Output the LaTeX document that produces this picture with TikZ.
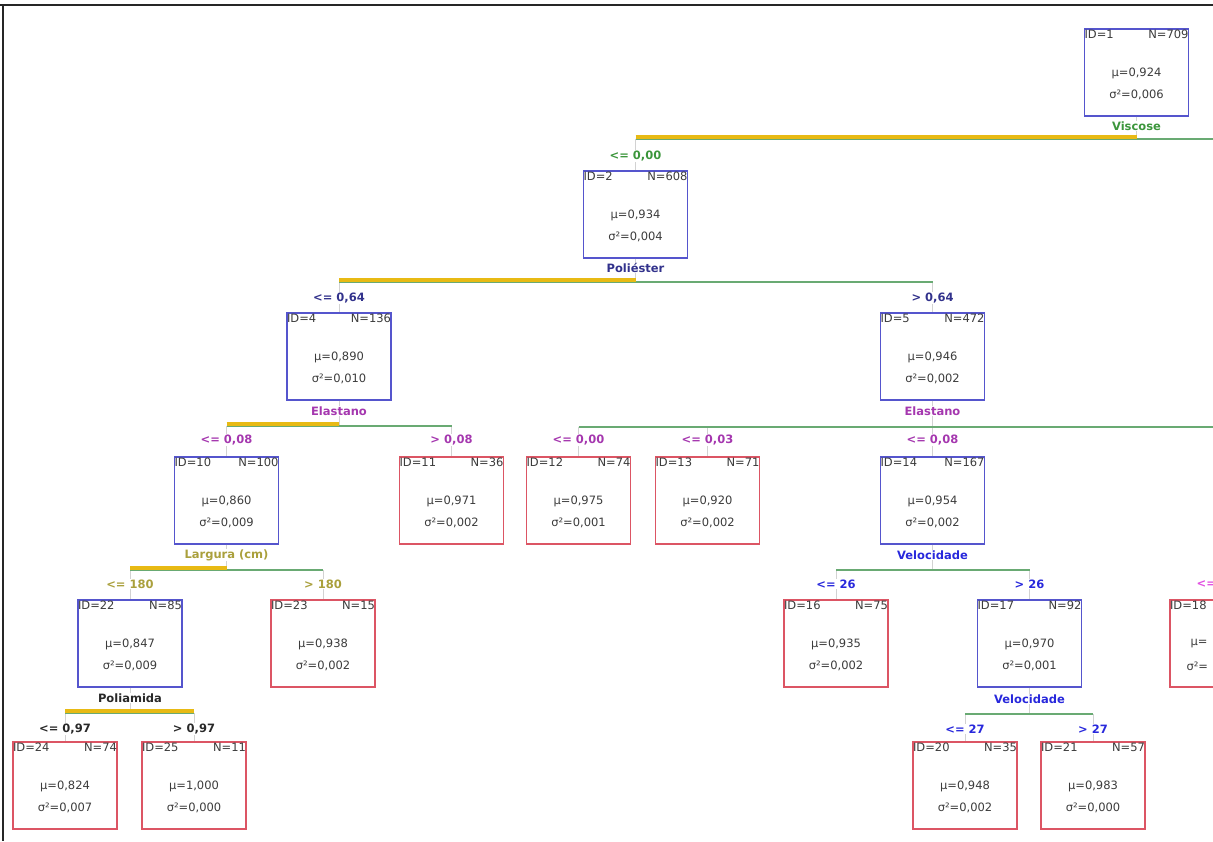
\documentclass[tikz,border=0pt]{standalone}
\usepackage{fontspec}
\setmainfont{DejaVu Sans}
\usetikzlibrary{calc}
\definecolor{inblue}{RGB}{85,85,205}
\definecolor{lfred}{RGB}{220,85,100}
\definecolor{bargreen}{RGB}{105,170,115}
\definecolor{baryel}{RGB}{232,186,20}
\definecolor{cgreen}{RGB}{60,150,60}
\definecolor{cnavy}{RGB}{50,50,140}
\definecolor{cmag}{RGB}{165,55,175}
\definecolor{colive}{RGB}{170,160,60}
\definecolor{cblue}{RGB}{40,40,220}
\definecolor{cdark}{RGB}{40,40,40}
\definecolor{cpink}{RGB}{225,80,225}
\definecolor{ctxt}{RGB}{60,60,60}
\tikzset{
  innerbox/.style={draw=inblue, line width=1.5pt, minimum width=104pt, minimum height=87pt, anchor=north, inner sep=0pt},
  leafbox/.style={draw=lfred, line width=1.5pt, minimum width=104pt, minimum height=87pt, anchor=north, inner sep=0pt},
  txt/.style={font=\fontsize{11.5}{13}\selectfont, text=ctxt, inner sep=0.3pt},
  lab/.style={font=\bfseries\fontsize{11.5}{13}\selectfont, inner sep=0.5pt, fill=white},
  gbar/.style={draw=bargreen, line width=1.2pt},
  ybar/.style={draw=baryel, line width=4pt},
  tickln/.style={draw=gray!35, line width=0.5pt},
}
\newcommand{\tn}[8]{%
  \node[#4] (#1) at (#2,#3) {};
  \node[txt, anchor=north west] at ($(#1.north west)+(0.3,1.5)$) {ID=#5};
  \node[txt, anchor=north east] at ($(#1.north east)+(-0.3,1.5)$) {N=#6};
  \node[txt] at ($(#1.north)+(0,45)$) {μ=#7};
  \node[txt] at ($(#1.north)+(0,67)$) {σ²=#8};
}
\begin{document}
\begin{tikzpicture}[x=1pt,y=-1pt]
\useasboundingbox (0,0) rectangle (1213,841);
\clip (0,0) rectangle (1213,841);
\fill[white] (0,0) rectangle (1213,841);
% frame
\draw[line width=2pt, black!85] (0,5) -- (1213,5);
\draw[line width=1.5pt, black!85] (3,5) -- (3,841);
% nodes
\tn{n1}{1136.5}{28}{innerbox}{1}{709}{0,924}{0,006}
\tn{n2}{635.5}{170}{innerbox}{2}{608}{0,934}{0,004}
\tn{n4}{339}{312}{innerbox}{4}{136}{0,890}{0,010}
\tn{n5}{932.5}{312}{innerbox}{5}{472}{0,946}{0,002}
\tn{n10}{226.5}{456}{innerbox}{10}{100}{0,860}{0,009}
\tn{n11}{451.5}{456}{leafbox}{11}{36}{0,971}{0,002}
\tn{n12}{578.5}{456}{leafbox}{12}{74}{0,975}{0,001}
\tn{n13}{707.5}{456}{leafbox}{13}{71}{0,920}{0,002}
\tn{n14}{932.5}{456}{innerbox}{14}{167}{0,954}{0,002}
\tn{n22}{130}{599}{innerbox}{22}{85}{0,847}{0,009}
\tn{n23}{323}{599}{leafbox}{23}{15}{0,938}{0,002}
\tn{n16}{836}{599}{leafbox}{16}{75}{0,935}{0,002}
\tn{n17}{1029.5}{599}{innerbox}{17}{92}{0,970}{0,001}
\tn{n24}{65}{741}{leafbox}{24}{74}{0,824}{0,007}
\tn{n25}{194}{741}{leafbox}{25}{11}{1,000}{0,000}
\tn{n20}{965}{741}{leafbox}{20}{35}{0,948}{0,002}
\tn{n21}{1093}{741}{leafbox}{21}{57}{0,983}{0,000}
\node[leafbox] (n18) at (1222,599) {};
\node[txt, anchor=north west] at ($(n18.north west)+(0.3,1.5)$) {ID=18};
\node[txt, anchor=west] at (1190,644) {μ=};
\node[txt, anchor=west] at (1186,666) {σ²=};
% free ends off to the right
\coordinate (r1) at (1220,139);
\coordinate (r5) at (1220,427);
% ticks
\draw[tickln] (n1.south) -- (n1.south |- 0,139);
\draw[tickln] (n2.north |- 0,139) -- (n2.north);
\draw[tickln] (n2.south) -- (n2.south |- 0,282);
\draw[tickln] (n4.north |- 0,282) -- (n4.north);
\draw[tickln] (n5.north |- 0,282) -- (n5.north);
\draw[tickln] (n4.south) -- (n4.south |- 0,426);
\draw[tickln] (n10.north |- 0,426) -- (n10.north);
\draw[tickln] (n11.north |- 0,426) -- (n11.north);
\draw[tickln] (n5.south) -- (n5.south |- 0,427);
\draw[tickln] (n12.north |- 0,427) -- (n12.north);
\draw[tickln] (n13.north |- 0,427) -- (n13.north);
\draw[tickln] (n14.north |- 0,427) -- (n14.north);
\draw[tickln] (n10.south) -- (n10.south |- 0,570);
\draw[tickln] (n22.north |- 0,570) -- (n22.north);
\draw[tickln] (n23.north |- 0,570) -- (n23.north);
\draw[tickln] (n14.south) -- (n14.south |- 0,570);
\draw[tickln] (n16.north |- 0,570) -- (n16.north);
\draw[tickln] (n17.north |- 0,570) -- (n17.north);
\draw[tickln] (n22.south) -- (n22.south |- 0,713);
\draw[tickln] (n24.north |- 0,713) -- (n24.north);
\draw[tickln] (n25.north |- 0,713) -- (n25.north);
\draw[tickln] (n17.south) -- (n17.south |- 0,714);
\draw[tickln] (n20.north |- 0,714) -- (n20.north);
\draw[tickln] (n21.north |- 0,714) -- (n21.north);
% bars
\draw[gbar] (n2.north |- 0,139) -- (r1);
\draw[ybar] (n2.north |- 0,137) -- (n1.south |- 0,137);
\draw[gbar] (n4.north |- 0,282) -- (n5.north |- 0,282);
\draw[ybar] (n4.north |- 0,280) -- (n2.south |- 0,280);
\draw[gbar] (n10.north |- 0,426) -- (n11.north |- 0,426);
\draw[ybar] (n10.north |- 0,424) -- (n4.south |- 0,424);
\draw[gbar] (n12.north |- 0,427) -- (r5);
\draw[gbar] (n22.north |- 0,570) -- (n23.north |- 0,570);
\draw[ybar] (n22.north |- 0,568) -- (n10.south |- 0,568);
\draw[gbar] (n16.north |- 0,570) -- (n17.north |- 0,570);
\draw[gbar] (n24.north |- 0,713) -- (n25.north |- 0,713);
\draw[ybar] (n24.north |- 0,711) -- (n25.north |- 0,711);
\draw[gbar] (n20.north |- 0,714) -- (n21.north |- 0,714);
% labels
\node[lab, text=cgreen] at (n1.south |- 0,126) {Viscose};
\node[lab, text=cgreen] at (n2.north |- 0,156) {<= 0,00};
\node[lab, text=cnavy] at (n2.south |- 0,268) {Poliéster};
\node[lab, text=cnavy] at (n4.north |- 0,298) {<= 0,64};
\node[lab, text=cnavy] at (n5.north |- 0,298) {> 0,64};
\node[lab, text=cmag] at (n4.south |- 0,411) {Elastano};
\node[lab, text=cmag] at (n10.north |- 0,440) {<= 0,08};
\node[lab, text=cmag] at (n11.north |- 0,440) {> 0,08};
\node[lab, text=cmag] at (n5.south |- 0,411) {Elastano};
\node[lab, text=cmag] at (n12.north |- 0,440) {<= 0,00};
\node[lab, text=cmag] at (n13.north |- 0,440) {<= 0,03};
\node[lab, text=cmag] at (n14.north |- 0,440) {<= 0,08};
\node[lab, text=colive] at (n10.south |- 0,555) {Largura (cm)};
\node[lab, text=colive] at (n22.north |- 0,584) {<= 180};
\node[lab, text=colive] at (n23.north |- 0,584) {> 180};
\node[lab, text=cblue] at (n14.south |- 0,555) {Velocidade};
\node[lab, text=cblue] at (n16.north |- 0,584) {<= 26};
\node[lab, text=cblue] at (n17.north |- 0,584) {> 26};
\node[lab, text=cpink, anchor=west] at (1196,584) {<=};
\node[lab, text=cdark] at (n22.south |- 0,698) {Poliamida};
\node[lab, text=cdark] at (n24.north |- 0,729) {<= 0,97};
\node[lab, text=cdark] at (n25.north |- 0,729) {> 0,97};
\node[lab, text=cblue] at (n17.south |- 0,699) {Velocidade};
\node[lab, text=cblue] at (n20.north |- 0,729) {<= 27};
\node[lab, text=cblue] at (n21.north |- 0,729) {> 27};
\end{tikzpicture}
\end{document}
